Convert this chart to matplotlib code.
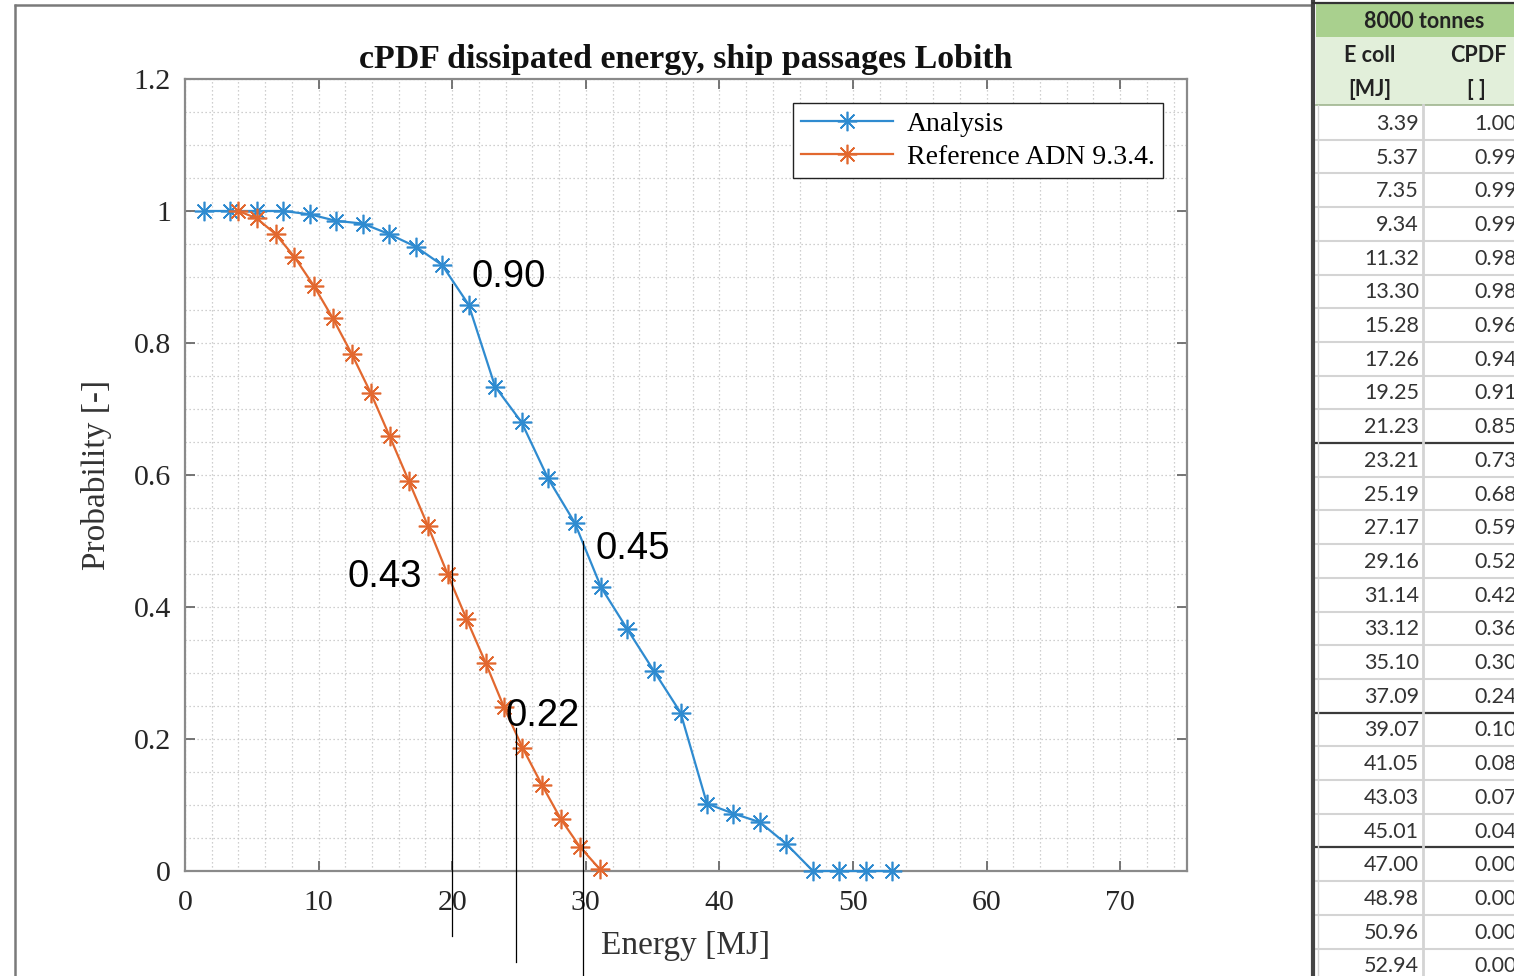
import matplotlib
matplotlib.use("Agg")
import matplotlib.pyplot as plt
from matplotlib.ticker import MultipleLocator, FormatStrFormatter
from matplotlib.patches import Rectangle

# ---------------- data ----------------
analysis_energy = [1.41, 3.39, 5.37, 7.35, 9.34, 11.32, 13.30, 15.28, 17.26, 19.25,
                   21.23, 23.21, 25.19, 27.17, 29.16, 31.14, 33.12, 35.10, 37.09,
                   39.07, 41.05, 43.03, 45.01, 47.00, 48.98, 50.96, 52.94]
analysis_prob = [1.000, 1.000, 1.000, 1.000, 0.995, 0.985, 0.981, 0.965, 0.946, 0.918,
                 0.858, 0.734, 0.680, 0.595, 0.528, 0.430, 0.366, 0.303, 0.240,
                 0.102, 0.087, 0.074, 0.041, 0.000, 0.000, 0.000, 0.000]

reference_energy = [3.99, 5.36, 6.78, 8.17, 9.63, 11.05, 12.49, 13.91, 15.31, 16.75,
                    18.20, 19.65, 21.07, 22.51, 23.88, 25.26, 26.70, 28.12, 29.54, 31.04]
reference_prob = [1.000, 0.989, 0.965, 0.931, 0.887, 0.838, 0.783, 0.724, 0.659, 0.591,
                  0.522, 0.450, 0.382, 0.315, 0.248, 0.187, 0.131, 0.079, 0.037, 0.003]

series_labels = ["Analysis", "Reference ADN 9.3.4."]
x_ticks = [0, 10, 20, 30, 40, 50, 60, 70]
y_ticks = [0, 0.2, 0.4, 0.6, 0.8, 1.0, 1.2]

# annotation lines (x, top y, bottom y) and labels (text, x, y)
ann_line_x = [20.0, 24.76, 29.77]
ann_line_top = [0.89, 0.217, 0.50]
ann_line_bottom = [-0.098, -0.138, -0.20]
ann_text = ["0.90", "0.43", "0.45", "0.22"]
ann_text_x = [21.45, 12.2, 30.75, 24.0]
ann_text_y = [0.90, 0.445, 0.488, 0.235]

# table
table_title = "8000 tonnes"
table_col_heads = ["E coll", "CPDF"]
table_col_units = ["[MJ]", "[ ]"]
table_energy = ["3.39", "5.37", "7.35", "9.34", "11.32", "13.30", "15.28", "17.26", "19.25",
                "21.23", "23.21", "25.19", "27.17", "29.16", "31.14", "33.12", "35.10",
                "37.09", "39.07", "41.05", "43.03", "45.01", "47.00", "48.98", "50.96", "52.94"]
table_cpdf = ["1.00", "0.99", "0.99", "0.99", "0.98", "0.98", "0.96", "0.94", "0.91",
              "0.85", "0.73", "0.68", "0.59", "0.52", "0.42", "0.36", "0.30",
              "0.24", "0.10", "0.08", "0.07", "0.04", "0.00", "0.00", "0.00", "0.00"]
table_thick_after = [9, 17, 21]

# ---------------- figure ----------------
W, H = 1514, 976
fig = plt.figure(figsize=(W / 100, H / 100), dpi=100)
fig.patch.set_facecolor("white")

# overlay in pixel coordinates (frame + table)
ov = fig.add_axes([0, 0, 1, 1], zorder=0)
ov.set_xlim(0, W)
ov.set_ylim(H, 0)
ov.set_axis_off()
ov.patch.set_visible(False)

# outer frame of the plot picture
ov.plot([15, 15], [4, H], color="#7a7a7a", lw=1.8, solid_capstyle="butt")
ov.plot([14, 1312], [5, 5], color="#7a7a7a", lw=1.8, solid_capstyle="butt")

# table
tx0, tsplit, tx1 = 1316, 1423, 1530
ov.add_patch(Rectangle((tx0, 4), tx1 - tx0, 33, facecolor="#a9d08e", edgecolor="none"))
ov.add_patch(Rectangle((tx0, 37), tx1 - tx0, 68, facecolor="#e2efda", edgecolor="none"))
tfont = ["Lato", "DejaVu Sans"]
hdr = dict(va="center", fontsize=15.5, fontweight="bold", family=tfont, color="#222222")
ov.text(1424, 21, table_title, ha="center", **hdr)
ov.text(1370, 55, table_col_heads[0], ha="center", **hdr)
ov.text(1478, 55, table_col_heads[1], ha="center", **hdr)
ov.text(1370, 89, table_col_units[0], ha="center", **hdr)
ov.text(1476, 89, table_col_units[1], ha="center", **hdr)
ov.plot([tx0, tx1], [105, 105], color="#9fb58f", lw=1.2)

row_h = 33.7
row0 = 106
for i, (e, c) in enumerate(zip(table_energy, table_cpdf)):
    yc = row0 + row_h * (i + 0.5)
    ov.text(1419, yc + 1, e, ha="right", va="center", fontsize=15.5, family=tfont, color="#333333")
    ov.text(1517, yc + 1, c, ha="right", va="center", fontsize=15.5, family=tfont, color="#333333")
    yb = row0 + row_h * (i + 1)
    if i in table_thick_after:
        ov.plot([tx0, tx1], [yb, yb], color="#3a3a3a", lw=1.6)
    else:
        ov.plot([tx0, tx1], [yb, yb], color="#d4d4d4", lw=1.5)
ov.plot([tsplit, tsplit], [105, H], color="#d4d4d4", lw=2.0)
ov.plot([tx0 + 2, tx0 + 2], [105, H], color="#d4d4d4", lw=1.0)
ov.plot([1313, 1313], [0, H], color="#444444", lw=3.0, solid_capstyle="butt")
ov.plot([1313, tx1], [3, 3], color="#333333", lw=1.6)

# main axes
ax = fig.add_axes([185 / W, 105 / H, 1002 / W, 792 / H], zorder=2)
ax.patch.set_facecolor("white")

blue = "#2f8bd0"
orange = "#e2682f"
ax.plot(analysis_energy, analysis_prob, color=blue, lw=1.6, marker=(8, 2, 0),
        markersize=14, markeredgewidth=1.2, label=series_labels[0], zorder=3, clip_on=False)
ax.plot(reference_energy, reference_prob, color=orange, lw=1.6, marker=(8, 2, 0),
        markersize=14, markeredgewidth=1.2, label=series_labels[1], zorder=3, clip_on=False)

ax.set_xlim(0, 75)
ax.set_ylim(0, 1.2)
ax.set_xticks(x_ticks)
ax.set_yticks(y_ticks)
ax.xaxis.set_minor_locator(MultipleLocator(2))
ax.yaxis.set_minor_locator(MultipleLocator(0.05))
ax.yaxis.set_major_formatter(FormatStrFormatter("%g"))
ax.grid(True, which="both", color="#c0c0c0", linestyle=(0, (1, 2.2)), lw=0.9)
ax.set_axisbelow(True)

for s in ax.spines.values():
    s.set_color("#8a8a8a")
    s.set_linewidth(1.6)
ax.tick_params(which="major", direction="in", length=7, width=1.3, color="#6a6a6a",
               top=True, right=True, labelsize=21.5, labelcolor="#262626")
ax.tick_params(which="minor", length=0, top=True, right=True)
ax.tick_params(axis="x", pad=14)
ax.tick_params(axis="y", pad=10)
for lab in ax.get_xticklabels() + ax.get_yticklabels():
    lab.set_family("Liberation Serif")

ax.set_title("cPDF dissipated energy, ship passages Lobith", family="Liberation Serif",
             fontweight="bold", fontsize=24.4, color="#111111", pad=8)
ax.set_xlabel("Energy [MJ]", family="Liberation Serif", fontsize=24, color="#333333", labelpad=10)
ax.set_ylabel("Probability [-]", family="Liberation Serif", fontsize=24, color="#333333", labelpad=16)

leg = ax.legend(loc="upper right", bbox_to_anchor=(0.976, 0.970), borderaxespad=0,
                prop={"family": "Liberation Serif", "size": 20}, fancybox=False,
                edgecolor="#222222", framealpha=1, handlelength=3.3, borderpad=0.3,
                labelspacing=0.28, handletextpad=0.5)
leg.get_frame().set_linewidth(1.0)

# annotations
for x, yt, yb in zip(ann_line_x, ann_line_top, ann_line_bottom):
    ax.plot([x, x], [yt, yb], color="black", lw=0.9, clip_on=False, zorder=4)
for t, x, y in zip(ann_text, ann_text_x, ann_text_y):
    ax.text(x, y, t, ha="left", va="center", fontsize=27.5, family="Liberation Sans",
            color="black", zorder=5)

fig.savefig("out.png", dpi=100)
